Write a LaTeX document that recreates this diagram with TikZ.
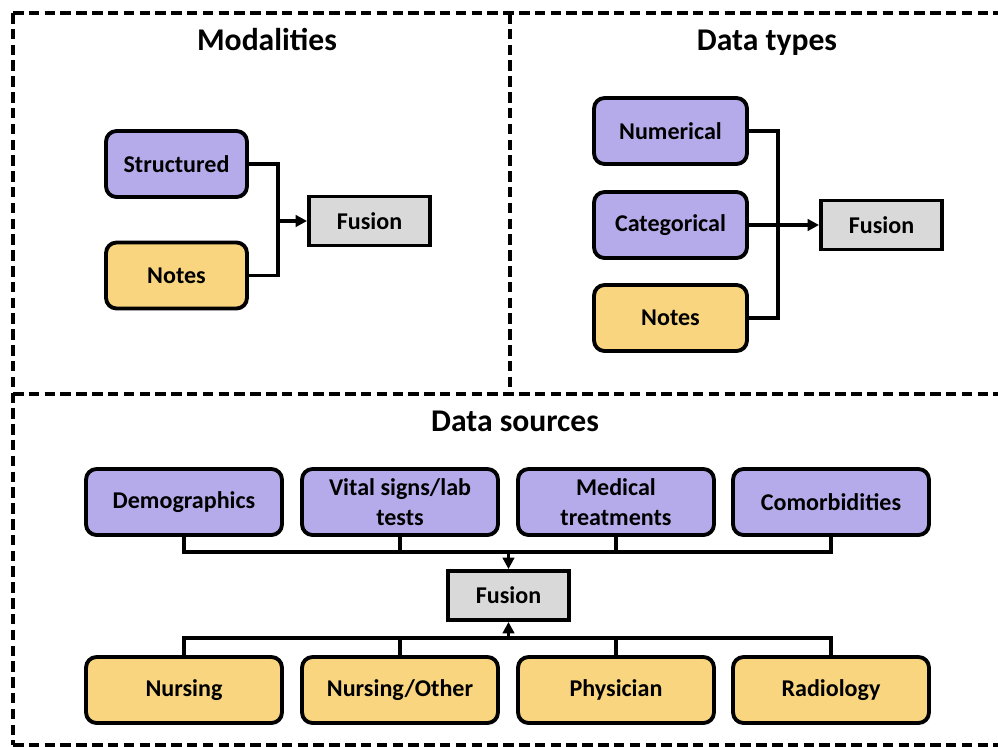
\documentclass[tikz,border=0pt]{standalone}
\usepackage{fontspec}
\setmainfont{Carlito}
\usetikzlibrary{arrows.meta}
\definecolor{cpurple}{HTML}{B6ABEA}
\definecolor{cyellow}{HTML}{F8D57E}
\definecolor{cgray}{HTML}{D9D9D9}
\tikzset{
  panel/.style={draw=black, line width=2pt, dash pattern=on 6pt off 3pt},
  title/.style={font=\fontsize{18}{21}\selectfont\bfseries, anchor=base},
  box/.style={draw=black, line width=2.2pt, rounded corners=6pt, align=center,
              minimum height=1.32cm, inner sep=2pt,
              font=\fontsize{13.7}{17}\selectfont\bfseries},
  pbox/.style={box, fill=cpurple},
  ybox/.style={box, fill=cyellow},
  fbox/.style={draw=black, line width=2.2pt, fill=cgray, minimum width=2.42cm,
               minimum height=0.98cm, font=\fontsize{13.7}{17}\selectfont\bfseries},
  conn/.style={draw=black, line width=2pt},
  arr/.style={conn, -{Triangle[length=6.5pt,width=6.5pt]}}
}
\begin{document}
\begin{tikzpicture}[x=0.02cm, y=-0.02cm]
\useasboundingbox (0,0) rectangle (998,747);
\clip (0,0) rectangle (998,747);
% panels
\draw[panel] (13,13) -- (1010,13);
\draw[panel] (13,394) -- (1010,394);
\draw[panel] (13,745) -- (1010,745);
\draw[panel] (13,13) -- (13,745);
\draw[panel] (510,13) -- (510,394);
% titles
\node[title] (t1) at (267,51) {Modalities};
\node[title] (t2) at (767,51) {Data types};
\node[title] (t3) at (515,431) {Data sources};
% Modalities
\node[pbox, minimum width=2.82cm] (S) at (176.5,164) {Structured};
\node[ybox, minimum width=2.82cm] (NL) at (176.5,275.5) {Notes};
\node[fbox] (FL) at (369.5,221) {Fusion};
\coordinate (jl) at (278,221);
\draw[conn] (S.east) -| (jl) |- (NL.east);
\draw[arr] (jl) -- (FL.west);
% Data types
\node[pbox, minimum width=3.06cm] (Num) at (670.5,131) {Numerical};
\node[pbox, minimum width=3.06cm] (Cat) at (670.5,225) {Categorical};
\node[ybox, minimum width=3.06cm] (NR) at (670.5,318) {Notes};
\node[fbox] (FR) at (881.5,225) {Fusion};
\coordinate (jr) at (778,225);
\draw[conn] (Num.east) -| (jr) |- (NR.east);
\draw[arr] (Cat.east) -- (FR.west);
% Data sources
\node[pbox, minimum width=3.92cm] (Demo) at (184,502) {Demographics};
\node[pbox, minimum width=3.92cm] (Vital) at (400,502) {Vital signs/lab\\tests};
\node[pbox, minimum width=3.92cm] (Med) at (616,502) {Medical\\treatments};
\node[pbox, minimum width=3.92cm] (Com) at (831,502) {Comorbidities};
\node[ybox, minimum width=3.92cm] (Nur) at (184,690) {Nursing};
\node[ybox, minimum width=3.92cm] (NurO) at (400,690) {Nursing/Other};
\node[ybox, minimum width=3.92cm] (Phy) at (616,690) {Physician};
\node[ybox, minimum width=3.92cm] (Rad) at (831,690) {Radiology};
\node[fbox] (FB) at (508.5,595.5) {Fusion};
\coordinate (jt) at (508.5,552);
\coordinate (jb) at (508.5,638);
\draw[conn] (Demo.south) -- (Demo.south |- jt) -- (Com.south |- jt) -- (Com.south);
\draw[conn] (Vital.south) -- (Vital.south |- jt);
\draw[conn] (Med.south) -- (Med.south |- jt);
\draw[arr] (jt) -- (FB.north);
\draw[conn] (Nur.north) -- (Nur.north |- jb) -- (Rad.north |- jb) -- (Rad.north);
\draw[conn] (NurO.north) -- (NurO.north |- jb);
\draw[conn] (Phy.north) -- (Phy.north |- jb);
\draw[arr] (jb) -- (FB.south);
\end{tikzpicture}
\end{document}
